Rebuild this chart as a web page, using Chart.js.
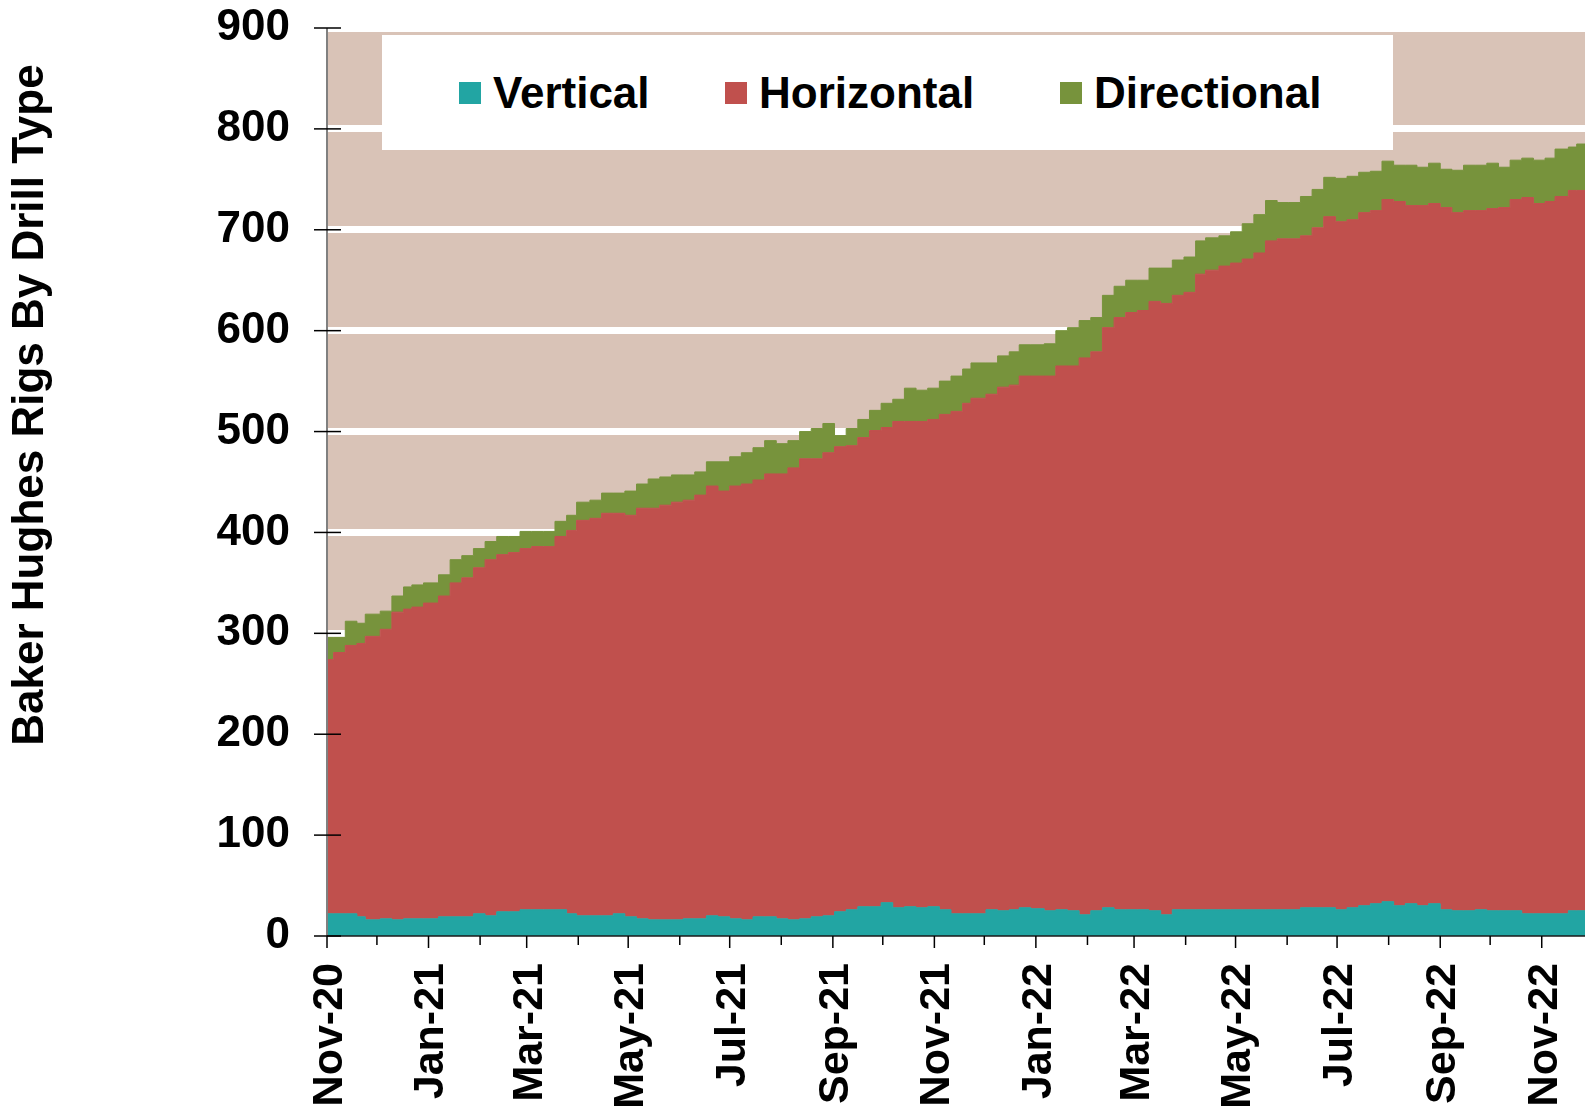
<!DOCTYPE html>
<html>
<head>
<meta charset="utf-8">
<title>Baker Hughes Rigs By Drill Type</title>
<script src="https://cdn.jsdelivr.net/npm/chart.js@4.4.1/dist/chart.umd.min.js"></script>
<style>
    html, body { margin: 0; padding: 0; background: #fff; }
    #cadre { position: relative; width: 1585px; height: 1111px; }
    #legende {
        position: absolute; left: 382px; top: 35px; width: 1011px; height: 115px;
        background: #fff; font: bold 44px "Liberation Sans", Arial, sans-serif; color: #000;
    }
    .item { position: absolute; top: 36px; height: 44px; line-height: 44px; display: flex; align-items: center; white-space: nowrap; }
    .carre { width: 22px; height: 22px; margin-right: 12px; }
</style>
</head>
<body>
<div id="cadre">
    <canvas id="graphique" width="1585" height="1111"></canvas>
    <div id="legende"></div>
</div>
<script>
// ─── Données (relevés hebdomadaires) ─────────────────────────────
const DATES = [
    '2020-10-30','2020-11-06','2020-11-13','2020-11-20','2020-11-25','2020-12-04','2020-12-11','2020-12-18','2020-12-23','2020-12-30',
    '2021-01-08','2021-01-15','2021-01-22','2021-01-29','2021-02-05','2021-02-12','2021-02-19','2021-02-26','2021-03-05','2021-03-12',
    '2021-03-19','2021-03-26','2021-04-01','2021-04-09','2021-04-16','2021-04-23','2021-04-30','2021-05-07','2021-05-14','2021-05-21',
    '2021-05-28','2021-06-04','2021-06-11','2021-06-18','2021-06-25','2021-07-02','2021-07-09','2021-07-16','2021-07-23','2021-07-30',
    '2021-08-06','2021-08-13','2021-08-20','2021-08-27','2021-09-03','2021-09-10','2021-09-17','2021-09-24','2021-10-01','2021-10-08',
    '2021-10-15','2021-10-22','2021-10-29','2021-11-05','2021-11-12','2021-11-19','2021-11-24','2021-12-03','2021-12-10','2021-12-17',
    '2021-12-23','2021-12-30','2022-01-07','2022-01-14','2022-01-21','2022-01-28','2022-02-04','2022-02-11','2022-02-18','2022-02-25',
    '2022-03-04','2022-03-11','2022-03-18','2022-03-25','2022-04-01','2022-04-08','2022-04-14','2022-04-22','2022-04-29','2022-05-06',
    '2022-05-13','2022-05-20','2022-05-27','2022-06-03','2022-06-10','2022-06-17','2022-06-24','2022-07-01','2022-07-08','2022-07-15',
    '2022-07-22','2022-07-29','2022-08-05','2022-08-12','2022-08-19','2022-08-26','2022-09-02','2022-09-09','2022-09-16','2022-09-23',
    '2022-09-30','2022-10-07','2022-10-14','2022-10-21','2022-10-28','2022-11-04','2022-11-10','2022-11-18','2022-11-23',
];

const VERTICAL = [
    22, 22, 22, 19, 16, 17, 16, 17, 17, 17,
    19, 19, 19, 22, 20, 24, 24, 26, 26, 26,
    26, 22, 20, 20, 20, 22, 19, 17, 16, 16,
    16, 17, 17, 20, 19, 17, 16, 19, 19, 17,
    16, 17, 19, 20, 24, 26, 29, 29, 33, 28,
    29, 28, 29, 26, 22, 22, 22, 26, 25, 26,
    28, 27, 25, 26, 25, 21, 25, 28, 26, 26,
    26, 25, 21, 26, 26, 26, 26, 26, 26, 26,
    26, 26, 26, 26, 28, 28, 28, 26, 28, 30,
    32, 34, 30, 32, 30, 32, 26, 25, 25, 26,
    25, 25, 25, 22, 22, 22, 22, 25, 25,
];

const HORIZONTAL = [
    252, 259, 266, 271, 281, 287, 305, 307, 309, 313,
    318, 331, 336, 343, 353, 354, 356, 358, 360, 360,
    370, 380, 392, 394, 399, 397, 398, 407, 408, 411,
    414, 415, 420, 426, 422, 429, 432, 433, 439, 441,
    448, 456, 454, 459, 461, 460, 465, 472, 471, 482,
    481, 482, 483, 491, 498, 506, 511, 511, 519, 520,
    527, 528, 530, 539, 540, 552, 554, 575, 587, 592,
    594, 604, 606, 609, 612, 630, 634, 638, 641, 645,
    651, 663, 665, 665, 666, 674, 685, 682, 682, 687,
    687, 696, 698, 692, 694, 694, 696, 692, 694, 693,
    696, 697, 705, 710, 704, 706, 711, 714, 714,
];

const DIRECTIONAL = [
    22, 15, 24, 20, 22, 18, 16, 22, 22, 20,
    21, 23, 22, 19, 18, 18, 16, 17, 15, 15,
    15, 15, 18, 18, 20, 20, 24, 24, 29, 28,
    27, 25, 23, 24, 29, 29, 31, 32, 33, 30,
    27, 27, 30, 29, 11, 17, 18, 20, 24, 22,
    33, 31, 31, 33, 35, 34, 35, 31, 31, 33,
    31, 31, 32, 35, 38, 37, 34, 32, 31, 32,
    30, 33, 35, 35, 35, 33, 32, 30, 31, 35,
    38, 40, 36, 36, 39, 38, 39, 43, 43, 40,
    39, 38, 36, 40, 38, 40, 38, 42, 45, 45,
    45, 40, 39, 39, 43, 43, 47, 43, 46,
];

const SERIES     = ['Vertical', 'Horizontal', 'Directional'];
const COULEURS   = ['#22A5A3', '#C0504D', '#77933C'];
const ETIQUETTES_X = ['Nov-20','Jan-21','Mar-21','May-21','Jul-21','Sep-21','Nov-21',
                      'Jan-22','Mar-22','May-22','Jul-22','Sep-22','Nov-22'];
const TITRE_Y    = 'Baker Hughes Rigs By Drill Type';
const DEBUT_AXE  = '2020-11-01';
const FIN_AXE    = '2022-11-27';

const FOND   = '#D9C3B7';
const POLICE = '"Liberation Sans", Arial, sans-serif';

// ─── Axe des dates : jours depuis le début de l'axe ─────────────
function enJours(iso) {
    const [a, m, j] = iso.split('-').map(Number);
    const [a0, m0, j0] = DEBUT_AXE.split('-').map(Number);
    return (Date.UTC(a, m - 1, j) - Date.UTC(a0, m0 - 1, j0)) / 864e5;
}

const DEBUTS_MOIS = [];
for (let m = 0; m <= 24; m++) {
    DEBUTS_MOIS.push((Date.UTC(2020, 10 + m, 1) - Date.UTC(2020, 10, 1)) / 864e5);
}

// la valeur d'un relevé est tracée à partir de la veille
function points(valeurs) {
    const pts = DATES.map((d, i) => ({ x: enJours(d) - 1, y: valeurs[i] }));
    pts.push({ x: enJours(FIN_AXE), y: valeurs[valeurs.length - 1] });
    return pts;
}

// pas de marge automatique autour des axes
function sansMarge(s) {
    s.paddingLeft = 0;
    s.paddingRight = 0;
    s.paddingTop = 0;
    s.paddingBottom = 0;
}

// ─── Décor : fond, axes, graduations, titre ─────────────────────
const decor = {
    id: 'decor',
    beforeDraw(chart) {
        const { ctx, chartArea: a } = chart;
        ctx.save();
        ctx.fillStyle = FOND;
        ctx.fillRect(a.left, a.top, a.right - a.left, a.bottom - a.top);
        ctx.restore();
    },
    afterDraw(chart) {
        const { ctx, chartArea: a, scales: { x, y } } = chart;
        ctx.save();

        ctx.strokeStyle = '#808080';
        ctx.lineWidth = 2;
        ctx.beginPath();
        ctx.moveTo(a.left, a.top);
        ctx.lineTo(a.left, a.bottom);
        ctx.stroke();

        ctx.strokeStyle = '#1a1a1a';
        ctx.lineWidth = 1.5;
        ctx.beginPath();
        ctx.moveTo(a.left, a.bottom);
        ctx.lineTo(a.right, a.bottom);
        ctx.stroke();

        ctx.strokeStyle = '#000';
        ctx.lineWidth = 1.5;
        y.ticks.forEach(t => {
            const py = y.getPixelForValue(t.value);
            ctx.beginPath();
            ctx.moveTo(a.left - 13, py);
            ctx.lineTo(a.left + 14, py);
            ctx.stroke();
        });
        DEBUTS_MOIS.forEach((d, i) => {
            const px = x.getPixelForValue(d);
            if (px > a.right + 1) return;
            ctx.beginPath();
            ctx.moveTo(px, a.bottom);
            ctx.lineTo(px, a.bottom + (i % 2 ? 9 : 12));
            ctx.stroke();
        });

        ctx.translate(31, 405);
        ctx.rotate(-Math.PI / 2);
        ctx.font = 'bold 44px ' + POLICE;
        ctx.fillStyle = '#000';
        ctx.textAlign = 'center';
        ctx.textBaseline = 'middle';
        ctx.fillText(TITRE_Y, 0, 0);
        ctx.restore();
    },
};

// ─── Graphique ───────────────────────────────────────────────────
const valeurs = [VERTICAL, HORIZONTAL, DIRECTIONAL];

new Chart(document.getElementById('graphique'), {
    type: 'line',
    data: {
        datasets: SERIES.map((nom, i) => ({
            label: nom,
            data: points(valeurs[i]),
            stepped: true,
            fill: i === 0 ? 'origin' : '-1',
            backgroundColor: COULEURS[i],
            borderColor: COULEURS[i],
            borderWidth: 1,
            pointRadius: 0,
            tension: 0,
        })),
    },
    options: {
        responsive: false,
        devicePixelRatio: 1,
        animation: false,
        layout: { padding: { top: 28, right: 0, left: 0, bottom: 0 } },
        plugins: { legend: { display: false }, tooltip: { enabled: false } },
        scales: {
            x: {
                type: 'linear',
                min: 0,
                max: enJours(FIN_AXE),
                grid: { display: false, drawTicks: false },
                border: { display: false },
                afterBuildTicks: s => {
                    s.ticks = DEBUTS_MOIS.filter((d, i) => i % 2 === 0).map(v => ({ value: v }));
                },
                afterFit: s => { s.height = 175; sansMarge(s); },
                ticks: {
                    autoSkip: false,
                    minRotation: 90,
                    maxRotation: 90,
                    padding: 27,
                    labelOffset: 3,
                    color: '#000',
                    font: { family: POLICE, size: 43, weight: 'bold' },
                    callback: (v, i) => ETIQUETTES_X[i],
                },
            },
            y: {
                stacked: true,
                min: 0,
                max: 900,
                grid: {
                    color: c => (c.tick && c.tick.value === 0) ? 'rgba(0,0,0,0)' : '#ffffff',
                    lineWidth: 7,
                    drawTicks: false,
                },
                border: { display: false },
                afterFit: s => { s.width = 327; sansMarge(s); },
                ticks: {
                    stepSize: 100,
                    padding: 37,
                    color: '#000',
                    font: { family: POLICE, size: 44, weight: 'bold' },
                },
            },
        },
    },
    plugins: [decor],
});

// ─── Légende ─────────────────────────────────────────────────────
const POS_LEGENDE = [77, 343, 678];
const legende = document.getElementById('legende');
SERIES.forEach((nom, i) => {
    const item = document.createElement('div');
    item.className = 'item';
    item.style.left = POS_LEGENDE[i] + 'px';
    item.innerHTML = `<span class="carre" style="background:${COULEURS[i]}"></span><span>${nom}</span>`;
    legende.appendChild(item);
});
</script>
</body>
</html>
